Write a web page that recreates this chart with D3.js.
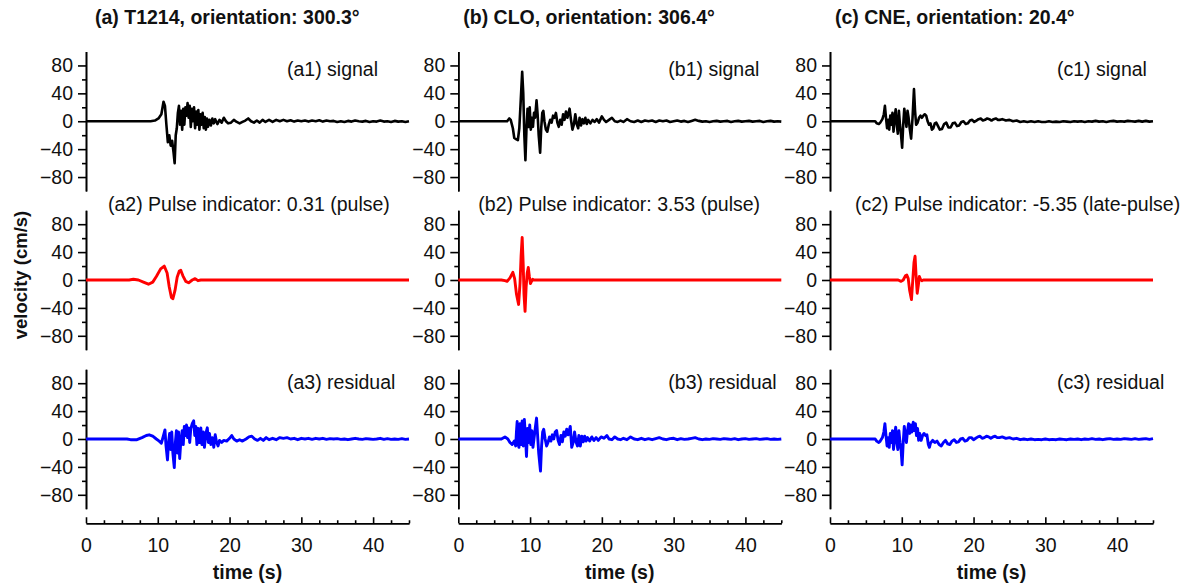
<!DOCTYPE html>
<html>
<head>
<meta charset="utf-8">
<script src="https://cdn.jsdelivr.net/npm/d3@7"></script>
<style>
  body { margin: 0; background: #fff; }
  text { font-family: "Liberation Sans", Arial, sans-serif; fill: #111; }
</style>
</head>
<body>
<div id="chart"></div>
<script>
// time (s), velocity (cm/s)

// (a) T1214
var sigA = [[0,0],[9,0],[9.6,1],[10.1,4],[10.5,10],[10.8,28],[11.0,22],[11.2,-5],[11.4,-30],[11.6,-20],[11.8,-35],[12.0,-28],[12.2,-45],[12.35,-60],[12.5,-20],[12.65,-10],[12.8,12],[12.95,22],[13.1,-5],[13.25,15],[13.4,-12],[13.55,18],[13.7,-5],[13.85,20],[14.0,8],[14.15,26],[14.3,5],[14.45,22],[14.6,-8],[14.75,18],[14.9,0],[15.05,20],[15.2,-10],[15.35,14],[15.5,-5],[15.65,16],[15.8,-12],[15.95,10],[16.1,-5],[16.25,12],[16.4,-10],[16.55,6],[16.7,-12],[16.85,4],[17.0,-8],[17.2,2],[17.4,-6],[17.6,4],[17.8,-3],[18.0,3],[18.3,-4],[18.6,2],[18.9,-2],[19.2,5],[19.5,0],[19.8,-3],[20.2,-2],[20.6,2],[21.0,-1],[21.4,-3],[21.8,-1],[22.2,1],[22.6,4],[23.0,0],[23.4,-2],[23.8,1],[24.2,-2],[24.6,2],[25.0,-1],[25.5,2],[26.0,-1],[26.5,2],[27.0,0],[27.5,2],[28,0],[28.5,1.5],[29,-0.5],[29.5,1],[30,0],[30.5,1],[31,-0.5],[31.5,1],[32,0],[32.5,1.5],[33,-0.5],[33.5,1],[34,0],[34.5,0.5],[35,-1],[35.5,0],[36,-1],[36.5,0.5],[37,-0.5],[37.5,1],[38,0],[38.5,-0.5],[39,0.5],[39.5,-1],[40,0],[40.5,-0.5],[41,1],[41.5,-0.5],[42,0],[42.5,-1],[43,0.5],[43.5,-0.5],[44,0],[44.5,-1],[45,0]];
var pulseA = [[0,0],[6.0,0],[6.6,1],[7.3,0],[8.0,-3],[8.7,-6],[9.3,-3],[9.8,5],[10.4,16],[10.9,20],[11.3,10],[11.6,-10],[11.9,-25],[12.1,-27],[12.4,-15],[12.7,4],[13.0,13],[13.2,14],[13.5,6],[13.9,-2],[14.3,-4],[14.8,0],[15.2,2],[15.6,-1],[16.0,0],[45,0]];
var resA = [[0,0],[5.7,0],[6.2,-1],[7.1,-1],[7.8,2],[8.4,5],[8.8,6],[9.3,4],[9.8,0],[10.2,-3],[10.5,-6],[10.8,5],[11.0,13],[11.15,-10],[11.35,-30],[11.5,-5],[11.65,8],[11.8,-15],[11.95,10],[12.1,-20],[12.3,-41],[12.45,-5],[12.6,12],[12.75,-20],[12.9,10],[13.05,-28],[13.2,-5],[13.4,12],[13.55,-8],[13.7,18],[13.85,5],[14.0,20],[14.15,2],[14.3,16],[14.45,-5],[14.6,15],[14.8,22],[15.0,26],[15.15,5],[15.3,18],[15.45,-8],[15.6,15],[15.8,-5],[16.0,16],[16.15,-8],[16.35,10],[16.5,-12],[16.7,8],[16.9,16],[17.05,-5],[17.2,8],[17.4,-8],[17.6,2],[17.8,-12],[18.0,6],[18.2,-5],[18.4,-10],[18.6,-2],[18.9,-5],[19.2,-2],[19.6,-3],[20.0,1],[20.3,5],[20.6,0],[21.0,-3],[21.4,-1],[21.8,-3],[22.3,0],[22.7,3],[23.1,4],[23.5,0],[23.9,-2],[24.3,1],[24.7,-2],[25.1,2],[25.5,-1],[26.0,1],[26.5,-1],[27.0,2],[27.5,1],[28.0,2],[28.5,0],[29,1],[29.5,-1],[30,1],[30.5,0],[31,1],[31.5,-0.5],[32,1],[32.5,0],[33,1],[33.5,-0.5],[34,0.5],[34.5,0],[35,0.5],[35.5,-0.5],[36,0],[36.5,-1],[37,0],[37.5,1],[38,0],[38.5,-0.5],[39,0.5],[39.5,0],[40,-0.5],[40.5,0],[41,1],[41.5,-0.5],[42,0.5],[42.5,-0.5],[43,0],[43.5,-0.5],[44,0.5],[44.5,-0.5],[45,0]];

// (b) CLO
var sigB = [[0,0],[6.8,0],[7.1,4],[7.3,2],[7.6,-10],[7.8,-24],[8.1,-26],[8.3,-27],[8.5,-10],[8.7,30],[8.9,71],[9.05,40],[9.2,-20],[9.35,-56],[9.5,-10],[9.65,18],[9.8,-8],[9.95,20],[10.1,-12],[10.25,5],[10.4,-8],[10.55,12],[10.7,5],[10.9,30],[11.05,10],[11.2,-20],[11.4,-45],[11.55,-10],[11.7,12],[11.85,15],[12.0,0],[12.2,-12],[12.4,-15],[12.6,-5],[12.8,2],[13.0,-2],[13.2,8],[13.4,5],[13.6,12],[13.8,-2],[14.0,-8],[14.2,2],[14.4,-5],[14.6,10],[14.8,2],[15.0,14],[15.2,5],[15.5,18],[15.7,2],[15.9,-12],[16.1,-5],[16.3,10],[16.5,-4],[16.7,-10],[16.9,5],[17.1,-6],[17.3,3],[17.5,-3],[17.7,5],[17.9,-4],[18.1,2],[18.4,-3],[18.7,2],[19.0,-1],[19.3,3],[19.6,-2],[20.0,7],[20.3,2],[20.6,-1],[21.0,2],[21.4,5],[21.8,0],[22.2,-1],[22.6,1],[23.0,-1],[23.5,3],[24.0,0],[24.5,-1],[25,1],[25.5,-1],[26,1],[26.5,0],[27,1],[27.5,-1],[28,1],[28.5,0],[29,1],[29.5,-1],[30,0],[30.5,1],[31,-0.5],[31.5,0.5],[32,-1],[32.5,0.5],[33,2],[33.5,0.5],[34,-0.5],[34.5,0],[35,-1],[35.5,0],[36,0.5],[36.5,-0.5],[37,0],[37.5,0.5],[38,-1],[38.5,0],[39,0.5],[39.5,-0.5],[40,0],[40.5,0.5],[41,-0.5],[41.5,0],[42,0.5],[42.5,-1],[43,0],[43.5,0.5],[44,-0.5],[44.5,0],[45,-0.5]];
var pulseB = [[0,0],[6.0,0],[6.5,-1],[6.8,-2],[7.2,3],[7.6,11],[7.85,2],[8.1,-20],[8.4,-35],[8.6,-5],[8.75,35],[8.9,61],[9.05,20],[9.15,-20],[9.3,-45],[9.45,-10],[9.6,10],[9.75,18],[9.9,5],[10.05,-5],[10.2,-2],[10.35,1],[10.5,0],[45,0]];
var resB = [[0,0],[6.0,0],[6.5,3],[6.9,0],[7.2,-5],[7.5,-8],[7.8,-3],[8.0,-10],[8.1,10],[8.2,25],[8.3,-5],[8.45,-12],[8.6,22],[8.75,-8],[8.9,26],[9.05,-10],[9.2,28],[9.35,5],[9.5,-25],[9.65,15],[9.8,-5],[9.95,20],[10.1,-8],[10.25,12],[10.4,-12],[10.6,5],[10.75,18],[10.9,30],[11.05,5],[11.2,-20],[11.45,-46],[11.6,-10],[11.75,10],[11.9,14],[12.1,0],[12.3,-10],[12.5,-5],[12.7,3],[12.9,-3],[13.1,6],[13.3,0],[13.5,10],[13.7,12],[13.9,-2],[14.1,-8],[14.3,5],[14.5,-4],[14.7,10],[14.9,4],[15.1,14],[15.3,6],[15.6,18],[15.8,-12],[16.0,-5],[16.2,10],[16.4,-4],[16.6,-10],[16.8,5],[17.0,-10],[17.2,4],[17.4,-4],[17.6,4],[17.8,-3],[18.0,2],[18.3,-3],[18.6,3],[18.9,-2],[19.2,2],[19.5,-2],[19.9,3],[20.3,1],[20.7,5],[21.0,0],[21.4,-1],[21.8,3],[22.2,0],[22.6,-1],[23.0,1],[23.5,-1],[24.0,3],[24.5,0],[25,-1],[25.5,1],[26,-1],[26.5,0.5],[27,-1],[27.5,0.5],[28,2],[28.5,0],[29,-1],[29.5,0.5],[30,1],[30.5,-1],[31,0.5],[31.5,-0.5],[32,0],[32.5,1],[33,2],[33.5,0],[34,-1],[34.5,0],[35,-0.5],[35.5,0.5],[36,0],[36.5,-0.5],[37,0.5],[37.5,0],[38,-0.5],[38.5,0.5],[39,-1],[39.5,0],[40,0.5],[40.5,-0.5],[41,0],[41.5,0.5],[42,-0.5],[42.5,0],[43,0.5],[43.5,-0.5],[44,0],[44.5,-0.5],[45,0]];

// (c) CNE
var sigC = [[0,0],[6.3,0],[6.5,-3],[6.8,-4],[7.0,-2],[7.3,3],[7.5,10],[7.65,22],[7.8,5],[7.95,-10],[8.1,2],[8.25,-12],[8.4,8],[8.55,-5],[8.7,12],[8.85,-15],[9.0,5],[9.15,17],[9.3,-5],[9.45,-18],[9.6,15],[9.75,-5],[9.9,-20],[10.05,-38],[10.2,-5],[10.35,18],[10.5,5],[10.65,-8],[10.8,15],[10.95,5],[11.1,-10],[11.3,-25],[11.5,5],[11.7,46],[11.85,15],[12.0,-5],[12.2,-2],[12.4,5],[12.6,8],[12.8,5],[13.0,8],[13.2,10],[13.4,8],[13.6,0],[13.8,-5],[14.0,-3],[14.2,-12],[14.4,-10],[14.6,-3],[14.8,-2],[15.0,-6],[15.3,-12],[15.6,-11],[15.9,-4],[16.2,-2],[16.5,-9],[16.8,-9],[17.1,-3],[17.4,-2],[17.7,-7],[18.0,-6],[18.3,-1],[18.6,0],[18.9,-4],[19.2,-3],[19.5,1],[19.8,2],[20.1,-1],[20.4,1],[20.7,3],[21.0,4],[21.3,1],[21.6,2],[21.9,4],[22.2,3],[22.5,1],[22.8,3],[23.1,4],[23.4,2],[23.7,2],[24.0,3],[24.5,1],[25.0,2],[25.5,0],[26,1],[26.5,-1],[27,0],[27.5,-1],[28,0],[28.5,-1],[29,0],[29.5,-1],[30,-1],[30.5,0],[31,-1],[31.5,-0.5],[32,-1],[32.5,0],[33,-0.5],[33.5,-1],[34,0],[34.5,-0.5],[35,0],[35.5,-1],[36,0],[36.5,-0.5],[37,0.5],[37.5,-0.5],[38,0],[38.5,-1],[39,0],[39.5,0.5],[40,-0.5],[40.5,0],[41,-0.5],[41.5,0.5],[42,0],[42.5,-0.5],[43,0.5],[43.5,-0.5],[44,0.5],[44.5,-0.5],[45,0]];
var pulseC = [[0,0],[9.5,0],[9.9,-2],[10.2,0],[10.5,6],[10.7,7],[10.9,2],[11.1,-15],[11.35,-28],[11.5,-5],[11.7,25],[11.85,34],[12.0,5],[12.15,-19],[12.3,-8],[12.45,5],[12.6,1],[12.8,-1],[13.0,0],[45,0]];
var resC = [[0,0],[6.3,0],[6.5,-3],[6.8,-5],[7.0,-3],[7.3,2],[7.5,10],[7.65,22],[7.8,5],[7.95,-10],[8.1,2],[8.25,-12],[8.4,8],[8.55,-5],[8.7,12],[8.85,-15],[9.0,5],[9.15,17],[9.3,-5],[9.45,-15],[9.6,12],[9.75,-5],[9.9,-15],[10.05,-37],[10.2,-5],[10.35,18],[10.5,5],[10.65,-5],[10.8,12],[10.95,22],[11.1,8],[11.25,20],[11.4,10],[11.6,24],[11.75,12],[11.9,22],[12.05,5],[12.2,15],[12.35,-2],[12.5,8],[12.7,-2],[12.9,5],[13.1,8],[13.3,5],[13.5,6],[13.7,-8],[13.85,-12],[14.0,-6],[14.3,-2],[14.6,-5],[14.9,-3],[15.2,-8],[15.5,-10],[15.8,-5],[16.1,-2],[16.4,-7],[16.7,-8],[17.0,-3],[17.3,-1],[17.6,-5],[17.9,-4],[18.2,0],[18.5,1],[18.8,-3],[19.1,-2],[19.4,2],[19.7,2],[20.0,-1],[20.3,1],[20.6,3],[20.9,4],[21.2,1],[21.5,2],[21.8,4],[22.1,3],[22.4,1],[22.7,3],[23.0,4],[23.3,2],[23.6,2],[24.0,3],[24.5,1],[25,2],[25.5,0],[26,1],[26.5,-1],[27,0],[27.5,-1],[28,0],[28.5,-1],[29,-0.5],[29.5,-1],[30,0],[30.5,-1],[31,-0.5],[31.5,-1],[32,0],[32.5,-0.5],[33,-1],[33.5,0],[34,-0.5],[34.5,0],[35,-1],[35.5,0],[36,-0.5],[36.5,0.5],[37,-0.5],[37.5,0],[38,-1],[38.5,0],[39,0.5],[39.5,-0.5],[40,0],[40.5,-0.5],[41,0.5],[41.5,0],[42,-0.5],[42.5,0.5],[43,-0.5],[43.5,0],[44,0.5],[44.5,-0.5],[45,0.5]];

var columnTitles = ["(a) T1214, orientation: 300.3\u00b0", "(b) CLO, orientation: 306.4\u00b0", "(c) CNE, orientation: 20.4\u00b0"];
var panelLabels = [
  ["(a1) signal", "(a2) Pulse indicator: 0.31 (pulse)", "(a3) residual"],
  ["(b1) signal", "(b2) Pulse indicator: 3.53 (pulse)", "(b3) residual"],
  ["(c1) signal", "(c2) Pulse indicator: -5.35 (late-pulse)", "(c3) residual"]
];
var series = [[sigA, pulseA, resA], [sigB, pulseB, resB], [sigC, pulseC, resC]];
var rowColors = ["#000000", "#ff0000", "#0000ff"];
var yMajor = [-80, -40, 0, 40, 80];
var yMinor = [-60, -20, 20, 60];
var xMajor = [0, 10, 20, 30, 40];
var xMinor = [2.5, 5, 7.5, 12.5, 15, 17.5, 22.5, 25, 27.5, 32.5, 35, 37.5, 42.5, 45];

// layout
var W = 1190, H = 585;
var colLeft = [86, 458.3, 830], panelW = 323;
var rowTop = [51.5, 210.25, 369.25], panelH = 139.5;
var titleDx = [9, 5, 5];
var labelDx = [[201, 22, 201], [210, 20, 210], [227, 25, 227]];
var labelBase = [24.5, 1, 20];

var svg = d3.select("#chart").append("svg")
    .attr("width", W)
    .attr("height", H);

var x = d3.scaleLinear().domain([0, 45]).range([0, panelW]);
var y = d3.scaleLinear().domain([-100, 100]).range([panelH, 0]);

var line = d3.line()
    .x(function(d) { return x(d[0]); })
    .y(function(d) { return y(d[1]); });

function styleAxis(g) {
  g.selectAll("path, line").attr("stroke", "#000").attr("stroke-width", 1.6);
  g.selectAll("text").attr("font-size", "19.5px").attr("fill", "#111")
    .attr("font-family", "'Liberation Sans', Arial, sans-serif");
}

for (var c = 0; c < 3; c++) {
  // column title
  svg.append("text")
    .attr("x", colLeft[c] + titleDx[c])
    .attr("y", 24)
    .attr("font-size", "19.5px")
    .attr("font-weight", "bold")
    .text(columnTitles[c]);

  for (var r = 0; r < 3; r++) {
    var g = svg.append("g")
      .attr("transform", "translate(" + colLeft[c] + "," + rowTop[r] + ")");

    // y axis, major + minor ticks
    g.append("g")
      .call(d3.axisLeft(y).tickValues(yMajor).tickSize(8).tickSizeOuter(0).tickPadding(5))
      .call(styleAxis);
    g.append("g")
      .call(d3.axisLeft(y).tickValues(yMinor).tickSize(4).tickSizeOuter(0).tickFormat(""))
      .call(styleAxis);

    g.append("path")
      .datum(series[c][r])
      .attr("fill", "none")
      .attr("stroke", rowColors[r])
      .attr("stroke-width", r == 0 ? 2.6 : 2.9)
      .attr("stroke-linejoin", "round")
      .attr("d", line);

    g.append("text")
      .attr("x", labelDx[c][r])
      .attr("y", labelBase[r])
      .attr("font-size", "19.5px")
      .attr("fill", "#222")
      .text(panelLabels[c][r]);

    if (r == 2) {
      var xg = g.append("g").attr("transform", "translate(0," + (panelH + 14.5) + ")");
      xg.append("g")
        .call(d3.axisBottom(x).tickValues(xMajor).tickSize(-6).tickSizeOuter(0).tickPadding(15))
        .call(styleAxis);
      xg.append("g")
        .call(d3.axisBottom(x).tickValues(xMinor).tickSize(-3).tickSizeOuter(0).tickFormat(""))
        .call(styleAxis);

      g.append("text")
        .attr("x", panelW / 2)
        .attr("y", panelH + 70)
        .attr("text-anchor", "middle")
        .attr("font-size", "19.5px")
        .attr("font-weight", "bold")
        .text("time (s)");
    }
  }
}

// shared y label
svg.append("text")
  .attr("transform", "translate(27,275) rotate(-90)")
  .attr("text-anchor", "middle")
  .attr("font-size", "18.5px")
  .attr("font-weight", "bold")
  .text("velocity (cm/s)");
</script>
</body>
</html>
